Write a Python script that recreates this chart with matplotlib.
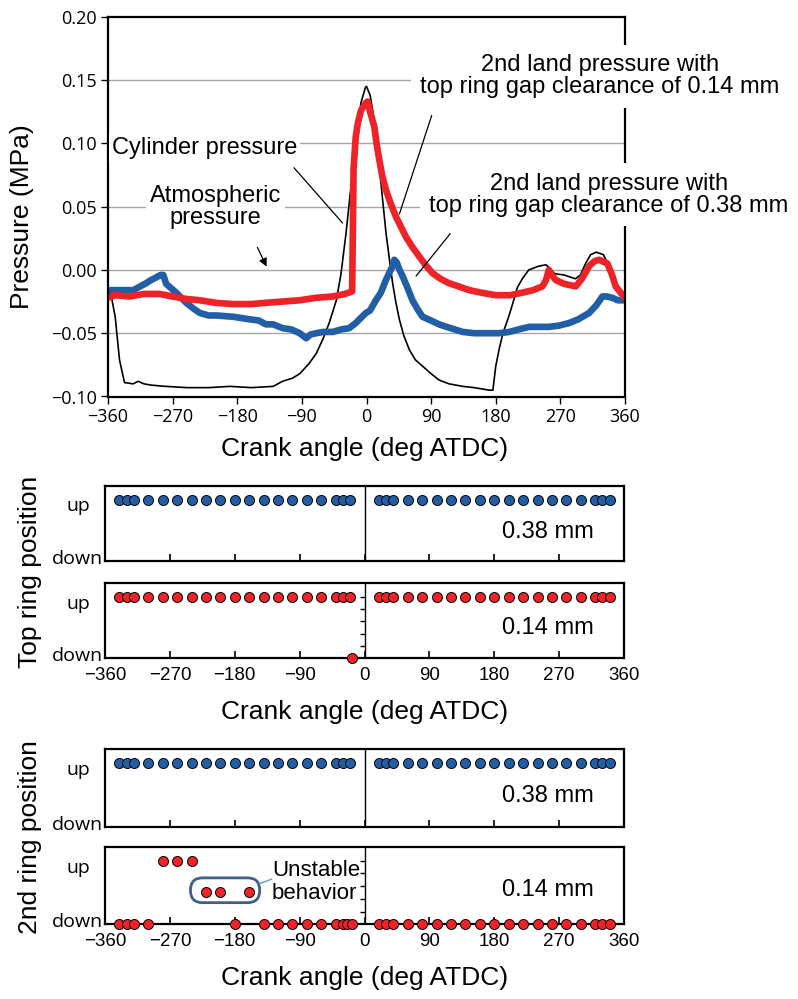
import matplotlib
matplotlib.use("Agg")
import matplotlib.pyplot as plt
from matplotlib.patches import FancyBboxPatch
from matplotlib.transforms import ScaledTranslation

# ---------------- data ----------------
cyl_angle = [-360, -355, -350, -344, -337, -325, -318, -310, -300, -280, -250, -220, -190, -160, -130, -117,
             -103, -93, -80, -70, -61, -52, -42, -35.5, -28.5, -21.6, -14.6, -7.7, -1.6, 0, 5, 8.6, 13, 17.8,
             22.5, 27.2, 32, 36.4, 41, 45.7, 52, 59.6, 68, 78, 90, 101, 115, 134, 150, 171, 176, 180, 185,
             190, 198, 205, 210, 217, 226, 240, 250, 256, 262, 275, 291, 298, 305, 312, 320, 330, 340, 347,
             355, 360]
cyl_p = [-0.016, -0.022, -0.037, -0.071, -0.089, -0.090, -0.088, -0.090, -0.091, -0.092, -0.093, -0.093,
         -0.092, -0.093, -0.092, -0.088, -0.0855, -0.082, -0.074, -0.066, -0.055, -0.042, -0.024, -0.003,
         0.029, 0.066, 0.103, 0.132, 0.144, 0.145, 0.138, 0.126, 0.105, 0.082, 0.055, 0.029, 0.008, -0.0105,
         -0.026, -0.039, -0.052, -0.063, -0.071, -0.076, -0.082, -0.087, -0.090, -0.092, -0.093, -0.095,
         -0.095, -0.076, -0.062, -0.050, -0.037, -0.024, -0.014, -0.007, 0.000, 0.003, 0.004, 0.001, -0.003,
         -0.004, -0.007, -0.004, 0.005, 0.012, 0.014, 0.012, 0.000, -0.011, -0.017, -0.021]

gap014_angle = [-360, -350, -330, -310, -288, -270, -250, -232, -210, -186, -160, -140, -117, -93, -70, -47,
                -30, -20, -18, -15, -12, -7.7, -0.7, 1.6, 5, 10.9, 14, 17.8, 22, 27.2, 34, 41, 48, 55, 64,
                73.5, 82, 92, 103, 115, 128, 143, 160, 180, 200, 217, 232, 245, 250, 254, 258, 263.6, 275,
                291.5, 300, 310, 318, 324, 335.5, 342, 347, 354, 360]
gap014_p = [-0.022, -0.020, -0.021, -0.019, -0.019, -0.021, -0.023, -0.024, -0.026, -0.027, -0.027, -0.026,
            -0.025, -0.024, -0.022, -0.021, -0.019, -0.017, 0.080, 0.105, 0.116, 0.126, 0.132, 0.133, 0.125,
            0.113, 0.100, 0.087, 0.074, 0.063, 0.052, 0.042, 0.034, 0.026, 0.018, 0.0105, 0.004, -0.0026,
            -0.007, -0.0105, -0.013, -0.016, -0.018, -0.020, -0.020, -0.018, -0.016, -0.013, -0.008, 0.000,
            -0.004, -0.008, -0.011, -0.013, -0.007, 0.003, 0.007, 0.008, 0.005, -0.004, -0.013, -0.018, -0.022]

gap038_angle = [-360, -340, -325, -315, -307, -300, -293, -287, -283, -279, -275, -265, -258, -251, -240,
                -232, -220, -209, -186, -163, -150, -140, -130, -117, -105, -93, -84, -78, -70, -60, -47,
                -35, -24, -15, -8, -0.7, 5, 13, 20, 27, 32, 36.4, 38.7, 42, 46, 50.3, 57, 64, 71, 78, 90,
                101, 117, 134, 150, 171, 185, 199, 212, 226.5, 240, 254, 268, 282, 295, 310, 320, 328.5,
                335, 342, 350, 360]
gap038_p = [-0.016, -0.016, -0.016, -0.013, -0.0105, -0.008, -0.006, -0.004, -0.004, -0.011, -0.013, -0.018,
            -0.022, -0.026, -0.031, -0.034, -0.036, -0.036, -0.037, -0.039, -0.040, -0.043, -0.043, -0.046,
            -0.047, -0.050, -0.054, -0.051, -0.050, -0.049, -0.049, -0.047, -0.046, -0.042, -0.038, -0.034,
            -0.032, -0.024, -0.018, -0.008, -0.002, 0.003, 0.008, 0.006, 0.000, -0.005, -0.014, -0.024,
            -0.031, -0.037, -0.040, -0.043, -0.046, -0.049, -0.050, -0.050, -0.050, -0.049, -0.047, -0.045,
            -0.045, -0.045, -0.044, -0.042, -0.039, -0.034, -0.028, -0.021, -0.021, -0.022, -0.024, -0.024]

# ring position samples (1 = up, 0.5 = intermediate, 0 = down)
ring_angle = [-340, -330, -320, -300, -280, -260, -240, -220, -200, -180, -160, -140, -120, -100, -80, -60,
              -40, -30, -20, 20, 30, 40, 60, 80, 100, 120, 140, 160, 180, 200, 220, 240, 260, 280, 300,
              320, 330, 340]
top_ring_038 = [1, 1, 1, 1, 1, 1, 1, 1, 1, 1, 1, 1, 1, 1, 1, 1, 1, 1, 1,
                1, 1, 1, 1, 1, 1, 1, 1, 1, 1, 1, 1, 1, 1, 1, 1, 1, 1, 1]
top_ring_014_angle = [-340, -330, -320, -300, -280, -260, -240, -220, -200, -180, -160, -140, -120, -100,
                      -80, -60, -40, -30, -20, -17, 20, 30, 40, 60, 80, 100, 120, 140, 160, 180, 200, 220,
                      240, 260, 280, 300, 320, 330, 340]
top_ring_014 = [1, 1, 1, 1, 1, 1, 1, 1, 1, 1, 1, 1, 1, 1, 1, 1, 1, 1, 1, 0,
                1, 1, 1, 1, 1, 1, 1, 1, 1, 1, 1, 1, 1, 1, 1, 1, 1, 1, 1]
second_ring_038 = [1, 1, 1, 1, 1, 1, 1, 1, 1, 1, 1, 1, 1, 1, 1, 1, 1, 1, 1,
                   1, 1, 1, 1, 1, 1, 1, 1, 1, 1, 1, 1, 1, 1, 1, 1, 1, 1, 1]
second_ring_014_angle = [-340, -330, -320, -300, -280, -260, -240, -220, -200, -180, -160, -140, -120,
                         -100, -80, -60, -40, -30, -24, -18, 20, 30, 40, 60, 80, 100, 120, 140, 160, 180,
                         200, 220, 240, 260, 280, 300, 320, 330, 340]
second_ring_014 = [0, 0, 0, 0, 1, 1, 1, 0.5, 0.5, 0, 0.5, 0, 0, 0, 0, 0, 0, 0, 0, 0,
                   0, 0, 0, 0, 0, 0, 0, 0, 0, 0, 0, 0, 0, 0, 0, 0, 0, 0, 0]

x_ticks = [-360, -270, -180, -90, 0, 90, 180, 270, 360]
p_ticks = [-0.10, -0.05, 0.00, 0.05, 0.10, 0.15, 0.20]
p_tick_labels = ["\u22120.10", "\u22120.05", "0.00", "0.05", "0.10", "0.15", "0.20"]
x_tick_labels = ["\u2212360", "\u2212270", "\u2212180", "\u221290", "0", "90", "180", "270", "360"]

# ---------------- style ----------------
BLUE = "#215EA6"
RED = "#ED2327"
TXT = "Liberation Sans"
TICKF = "Open Sans"
W, H = 798, 999

fig = plt.figure(figsize=(W / 100, H / 100), dpi=100)


def px_axes(l, t, r, b):
    return fig.add_axes([l / W, 1 - b / H, (r - l) / W, (b - t) / H])


# ---------------- top pressure chart ----------------
ax = px_axes(108, 16.7, 625, 396.5)
for v in [0.15, 0.10, 0.05, 0.00, -0.05]:
    ax.axhline(v, color="#a6a6a6", lw=1.0, zorder=1)
ax.plot(cyl_angle, cyl_p, color="black", lw=1.2, zorder=3)
ax.plot(gap038_angle, gap038_p, color=BLUE, lw=4.8, solid_joinstyle="round", zorder=4)
ax.plot(gap014_angle, gap014_p, color=RED, lw=4.8, solid_joinstyle="round", zorder=5)
ax.set_xlim(-360, 360)
ax.set_ylim(-0.10, 0.20)
ax.set_xticks(x_ticks)
ax.set_xticklabels(x_tick_labels, fontsize=13, family=TICKF)
ax.set_yticks(p_ticks)
ax.set_yticklabels(p_tick_labels, fontsize=13, family=TICKF)
ax.tick_params(direction="out", length=5, width=1.0, pad=3)
for s in ax.spines.values():
    s.set_linewidth(1.6)
    s.set_zorder(6)

bb = dict(boxstyle="square,pad=0.12", fc="white", ec="none")
ax.text(-225.5, 0.0963, "Cylinder pressure", fontsize=17, family=TXT, ha="center", va="center",
        bbox=bb, zorder=8)
ax.text(-210, 0.050, "Atmospheric\npressure", fontsize=17, family=TXT, ha="center", va="center",
        linespacing=1.0, bbox=dict(boxstyle="square,pad=0.15", fc="white", ec="none"), zorder=8)
ax.text(325, 0.1531, "2nd land pressure with\ntop ring gap clearance of 0.14 mm", fontsize=17,
        family=TXT, ha="center", va="center", linespacing=1.0,
        bbox=dict(boxstyle="square,pad=0.4", fc="white", ec="none"), zorder=8, clip_on=False)
ax.text(337.7, 0.0593, "2nd land pressure with\ntop ring gap clearance of 0.38 mm", fontsize=17,
        family=TXT, ha="center", va="center", linespacing=1.0,
        bbox=dict(boxstyle="square,pad=0.4", fc="white", ec="none"), zorder=8, clip_on=False)
ax.annotate("", xy=(-30.8, 0.0354), xytext=(-103.5, 0.0823),
            arrowprops=dict(arrowstyle="-", color="black", lw=0.9), zorder=9)
ax.annotate("", xy=(-137.5, 0.0006), xytext=(-153.6, 0.0198),
            arrowprops=dict(arrowstyle="-|>", color="black", lw=0.9, mutation_scale=12), zorder=9)
ax.annotate("", xy=(44.7, 0.0422), xytext=(92.0, 0.124),
            arrowprops=dict(arrowstyle="-", color="black", lw=0.9), zorder=9)
ax.annotate("", xy=(66.6, -0.0066), xytext=(119, 0.0303),
            arrowprops=dict(arrowstyle="-", color="black", lw=0.9), zorder=9)

fig.text(22.5 / W, 1 - 216.7 / H, "Pressure (MPa)", rotation=90, fontsize=19, family=TXT,
         ha="center", va="center")
fig.text(365 / W, 1 - 449 / H, "Crank angle (deg ATDC)", fontsize=19, family=TXT, ha="center",
         va="center")

# ---------------- ring position panels ----------------
YMAX = 1.22


def ring_panel(t, b, angles, pos, color, label, label_y, show_xlabels, axis_ticks):
    a = px_axes(105, t, 624, b)
    a.set_xlim(-360, 360)
    a.set_ylim(0, YMAX)
    a.axvline(0, color="black", lw=1.0, zorder=2)
    if axis_ticks:
        a.plot([0, 0, 0, 0, 0], [0.2, 0.4, 0.6, 0.8, 1.0], ls="none", marker=0, ms=3.5,
               mew=1.0, color="black", zorder=2)
    a.plot(angles, pos, ls="none", marker="o", ms=7.2, mfc=color, mec="black", mew=0.7,
           clip_on=False, zorder=5)
    a.set_xticks(x_ticks)
    if show_xlabels:
        a.set_xticklabels(x_tick_labels, fontsize=13.5, family=TXT)
    else:
        a.set_xticklabels([])
    a.tick_params(axis="x", direction="in", length=5, width=1.2, pad=6)
    a.set_yticks([0, 1])
    a.set_yticklabels(["down", "up"], fontsize=14, family=TICKF)
    a.tick_params(axis="y", length=0, pad=19.5)
    labs = a.get_yticklabels()
    for lab in labs:
        lab.set_horizontalalignment("center")
    labs[1].set_transform(labs[1].get_transform() + ScaledTranslation(0, -3.5 / 72, fig.dpi_scale_trans))
    labs[0].set_transform(labs[0].get_transform() + ScaledTranslation(0, 3.0 / 72, fig.dpi_scale_trans))
    for s in a.spines.values():
        s.set_linewidth(1.6)
        s.set_zorder(4)
    a.text(0.853, label_y, label, transform=a.transAxes, fontsize=17, family=TXT,
           ha="center", va="center")
    return a


ring_panel(486, 561, ring_angle, top_ring_038, BLUE, "0.38 mm", 0.39, False, False)
ring_panel(583.3, 658.3, top_ring_014_angle, top_ring_014, RED, "0.14 mm", 0.40, True, True)
ring_panel(749.3, 826.7, ring_angle, second_ring_038, BLUE, "0.38 mm", 0.40, False, False)
axD = ring_panel(846.7, 924.3, second_ring_014_angle, second_ring_014, RED, "0.14 mm", 0.44, True, True)

# unstable behaviour marker
box = FancyBboxPatch((-241.4, 0.34), 96.0, 0.39,
                     boxstyle="round,pad=0,rounding_size=17", mutation_aspect=0.0113,
                     fc="none", ec="#3F5F8A", lw=2.0, zorder=6)
axD.add_patch(box)
axD.plot([-145.4, -129], [0.64, 0.71], color="#5B9BD5", lw=1.0, zorder=6)
axD.text(-128.3, 0.665, "Unstable\nbehavior", fontsize=16, family=TXT, ha="left", va="center",
         linespacing=1.1, zorder=7)

fig.text(365 / W, 1 - 712 / H, "Crank angle (deg ATDC)", fontsize=19, family=TXT, ha="center",
         va="center")
fig.text(365 / W, 1 - 978 / H, "Crank angle (deg ATDC)", fontsize=19, family=TXT, ha="center",
         va="center")
fig.text(30 / W, 1 - 572 / H, "Top ring position", rotation=90, fontsize=19, family=TXT,
         ha="center", va="center")
fig.text(30 / W, 1 - 837 / H, "2nd ring position", rotation=90, fontsize=19, family=TXT,
         ha="center", va="center")

fig.savefig("out.png", dpi=100, facecolor="white")
